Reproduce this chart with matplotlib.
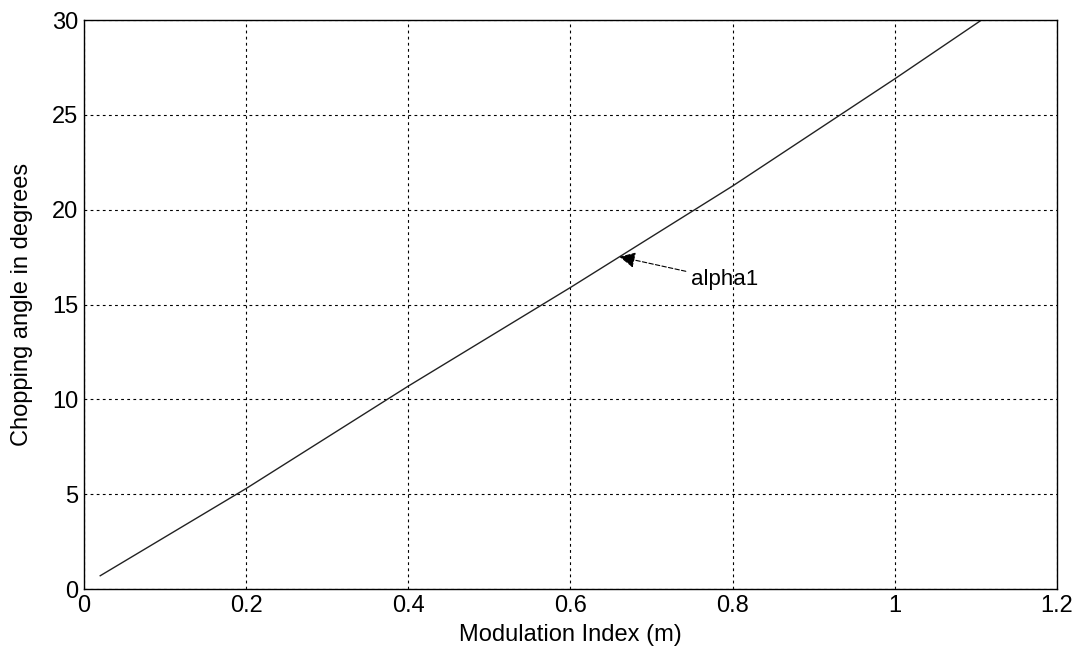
import matplotlib
matplotlib.use('Agg')
import matplotlib.pyplot as plt

# modulation index vs chopping angle
m = [0.02, 0.2, 0.4, 0.6, 0.8, 1.0, 1.107]
alpha1 = [0.7, 5.3, 10.7, 15.9, 21.25, 26.9, 30.0]
xticks = [0, 0.2, 0.4, 0.6, 0.8, 1, 1.2]
xticklabels = ['0', '0.2', '0.4', '0.6', '0.8', '1', '1.2']
yticks = [0, 5, 10, 15, 20, 25, 30]

plt.rcParams['font.family'] = ['Liberation Sans', 'DejaVu Sans']

fig = plt.figure(figsize=(10.77, 6.52), dpi=100)
ax = fig.add_axes([0.078, 0.0966, 0.9034, 0.8727])

ax.plot(m, alpha1, color='#222222', linewidth=1.0)

ax.set_xlim(0, 1.2)
ax.set_ylim(0, 30)
ax.set_xticks(xticks)
ax.set_xticklabels(xticklabels)
ax.set_yticks(yticks)
ax.tick_params(direction='in', length=0, labelsize=17, pad=4)
ax.grid(True, color='black', linestyle=(0, (2.5, 3)), linewidth=0.8)
for s in ax.spines.values():
    s.set_linewidth(1.0)

ax.set_xlabel('Modulation Index (m)', fontsize=17, labelpad=5)
ax.set_ylabel('Chopping angle in degrees', fontsize=17, labelpad=14)

ax.annotate('alpha1', xy=(0.657, 17.55), xytext=(0.749, 16.3),
            fontsize=16, va='center', ha='left',
            arrowprops=dict(arrowstyle='-|>', color='black', lw=0.8,
                            linestyle=(0, (4, 2)), mutation_scale=24))

fig.savefig('out.png', dpi=100)
